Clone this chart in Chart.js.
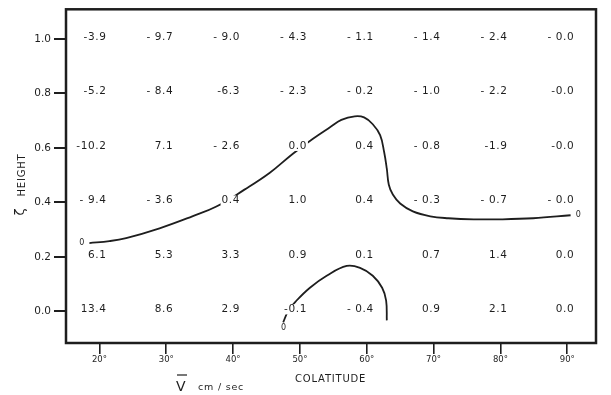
<!DOCTYPE html>
<html>
<head>
<meta charset="utf-8">
<script src="https://cdn.jsdelivr.net/npm/chart.js@4.4.1/dist/chart.umd.min.js"></script>
<style>
    html, body { margin: 0; padding: 0; background: #fff; }
    #wrap { width: 611px; height: 395px; }
</style>
</head>
<body>
<div id="wrap"><canvas id="velocityChart" width="611" height="395"></canvas></div>
<script>
// Colatitude columns and height rows of the table
const colatitudes = [20, 30, 40, 50, 60, 70, 80, 90];
const heights = [1.0, 0.8, 0.6, 0.4, 0.2, 0.0];
const heightTicks = [0.0, 0.2, 0.4, 0.6, 0.8, 1.0];

// mean velocity (cm/sec) printed at each grid point, one list per height
const vAt10 = ['-3.9', '- 9.7', '- 9.0', '- 4.3', '- 1.1', '- 1.4', '- 2.4', '- 0.0'];
const vAt08 = ['-5.2', '- 8.4', '-6.3', '- 2.3', '- 0.2', '- 1.0', '- 2.2', '-0.0'];
const vAt06 = ['-10.2', '7.1', '- 2.6', '0.0', '0.4', '- 0.8', '-1.9', '-0.0'];
const vAt04 = ['- 9.4', '- 3.6', '0.4', '1.0', '0.4', '- 0.3', '- 0.7', '- 0.0'];
const vAt02 = ['6.1', '5.3', '3.3', '0.9', '0.1', '0.7', '1.4', '0.0'];
const vAt00 = ['13.4', '8.6', '2.9', '-0.1', '- 0.4', '0.9', '2.1', '0.0'];
const velocityRows = [vAt10, vAt08, vAt06, vAt04, vAt02, vAt00];

// zero contours
const upperZeroX = [18.5, 21.5, 24.0, 29.0, 33.9, 37.5, 41.7, 45.5, 48.9, 51.9, 54.5, 56.2, 58.2, 59.6, 60.9, 62.0, 62.6, 63.0, 63.3, 63.9, 65.0, 66.9, 69.5, 72.2, 76.0, 80.0, 84.9, 90.5];
const upperZeroY = [0.251, 0.258, 0.269, 0.305, 0.349, 0.385, 0.447, 0.509, 0.578, 0.633, 0.676, 0.703, 0.716, 0.712, 0.687, 0.647, 0.585, 0.524, 0.465, 0.429, 0.396, 0.367, 0.349, 0.342, 0.338, 0.338, 0.342, 0.353];
const lowerZeroX = [47.5, 48.3, 49.5, 51.5, 54.0, 57.0, 59.0, 60.9, 62.3, 62.9, 63.0];
const lowerZeroY = [-0.040, 0.004, 0.040, 0.087, 0.131, 0.167, 0.160, 0.131, 0.087, 0.040, -0.033];

// "0" marks at the contour ends
const zeroLabelX = [17.4, 91.7, 47.6];
const zeroLabelY = [0.251, 0.353, -0.060];

const INK = '#1e1e1e';
const FONT = '"DejaVu Sans", sans-serif';

function toPoints(xs, ys) {
    return xs.map((x, i) => ({ x: x, y: ys[i] }));
}

// table values, contour marks, frame and axis titles
const annotatePlugin = {
    id: 'annotate',
    afterDatasetsDraw(chart) {
        const ctx = chart.ctx;
        const xs = chart.scales.x;
        const ys = chart.scales.y;
        const area = chart.chartArea;

        ctx.save();
        ctx.font = '10.5px ' + FONT;
        ctx.letterSpacing = '0.6px';
        ctx.textAlign = 'right';
        ctx.textBaseline = 'middle';
        heights.forEach((h, r) => {
            velocityRows[r].forEach((label, c) => {
                const px = xs.getPixelForValue(colatitudes[c]) + 7;
                const py = ys.getPixelForValue(h) - 2;
                const w = ctx.measureText(label).width;
                ctx.fillStyle = '#fff';
                ctx.fillRect(px - w - 1, py - 5, w + 2, 10);
                ctx.fillStyle = INK;
                ctx.fillText(label, px, py);
            });
        });

        ctx.font = '8px ' + FONT;
        ctx.textAlign = 'center';
        zeroLabelX.forEach((x, i) => {
            ctx.fillText('0', xs.getPixelForValue(x), ys.getPixelForValue(zeroLabelY[i]));
        });

        // frame
        ctx.strokeStyle = INK;
        ctx.lineWidth = 2.5;
        ctx.strokeRect(area.left, area.top, area.right - area.left, area.bottom - area.top);

        // x titles
        ctx.letterSpacing = '0.8px';
        ctx.font = '10px ' + FONT;
        ctx.textAlign = 'left';
        ctx.fillText('COLATITUDE', 295, 379);
        ctx.font = '9.5px ' + FONT;
        ctx.fillText('cm / sec', 198, 388);
        ctx.font = '14px ' + FONT;
        ctx.letterSpacing = '0px';
        ctx.fillText('V', 176, 387);
        ctx.lineWidth = 1.2;
        ctx.beginPath();
        ctx.moveTo(177, 375);
        ctx.lineTo(187, 375);
        ctx.stroke();

        // y title
        ctx.translate(22, 175);
        ctx.rotate(-Math.PI / 2);
        ctx.font = '10px ' + FONT;
        ctx.letterSpacing = '0.8px';
        ctx.textAlign = 'center';
        ctx.fillText('HEIGHT', 0, 0);
        ctx.font = '13px ' + FONT;
        ctx.letterSpacing = '0px';
        ctx.fillText('ζ', -37, -1);
        ctx.restore();
    }
};

function contourDataset(xs, ys) {
    return {
        data: toPoints(xs, ys),
        showLine: true,
        borderColor: INK,
        borderWidth: 1.8,
        pointRadius: 0,
        tension: 0.4,
        fill: false
    };
}

new Chart(document.getElementById('velocityChart'), {
    type: 'scatter',
    data: {
        datasets: [
            contourDataset(upperZeroX, upperZeroY),
            contourDataset(lowerZeroX, lowerZeroY)
        ]
    },
    options: {
        responsive: false,
        animation: false,
        layout: { padding: { top: 6, right: 15, left: 0, bottom: 0 } },
        plugins: { legend: { display: false }, tooltip: { enabled: false } },
        scales: {
            x: {
                type: 'linear',
                min: 15,
                max: 94.3,
                afterFit: (scale) => { scale.height = 52; },
                afterBuildTicks: (scale) => { scale.ticks = colatitudes.map(v => ({ value: v })); },
                border: { display: false },
                grid: { drawOnChartArea: false, drawTicks: true, tickLength: 11, color: INK, lineWidth: 1.6 },
                ticks: {
                    color: INK,
                    padding: 1,
                    font: { family: FONT, size: 8.5 },
                    callback: (v) => v + '°'
                }
            },
            y: {
                type: 'linear',
                min: -0.116,
                max: 1.109,
                afterFit: (scale) => { scale.width = 66; },
                afterBuildTicks: (scale) => { scale.ticks = heightTicks.map(v => ({ value: v })); },
                border: { display: false },
                grid: { drawOnChartArea: false, drawTicks: true, tickLength: 12, color: INK, lineWidth: 2 },
                ticks: {
                    color: INK,
                    padding: 3,
                    font: { family: FONT, size: 10.5 },
                    callback: (v) => v.toFixed(1)
                }
            }
        }
    },
    plugins: [annotatePlugin]
});
</script>
</body>
</html>
